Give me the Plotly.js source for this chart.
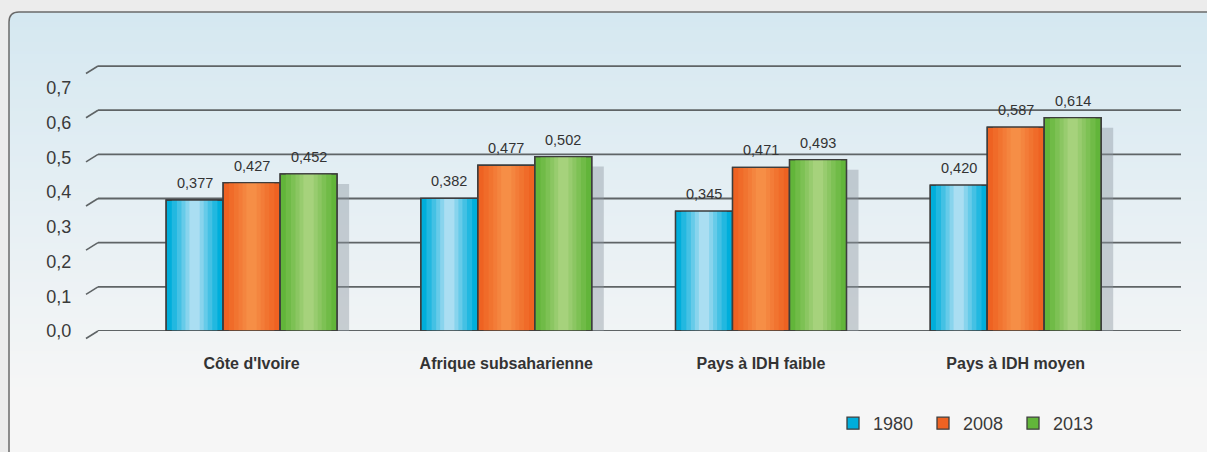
<!DOCTYPE html>
<html>
<head>
<meta charset="utf-8">
<script src="https://cdn.plot.ly/plotly-3.0.1.min.js"></script>
<style>html,body{margin:0;padding:0;background:#f6f6f6;overflow:hidden;}#chart{width:1207px;height:452px;}</style>
</head>
<body>
<div id="chart"></div>
<script>
// ---- data ----
const categories = ["Côte d'Ivoire", "Afrique subsaharienne", "Pays à IDH faible", "Pays à IDH moyen"];
const years = ["1980", "2008", "2013"];
const v1980 = [0.377, 0.382, 0.345, 0.420];
const v2008 = [0.427, 0.477, 0.471, 0.587];
const v2013 = [0.452, 0.502, 0.493, 0.614];
const yTickValues = [0, 0.1, 0.2, 0.3, 0.4, 0.5, 0.6, 0.7];
const yTickLabels = ["0,0", "0,1", "0,2", "0,3", "0,4", "0,5", "0,6", "0,7"];

// ---- geometry / style ----
const W = 1207, H = 452, ML = 98, MR = 26, MT = 60, MB = 121;
const PW = W - ML - MR, PH = H - MT - MB;
const Y_MAX = 0.78;
const X_RANGE = [-0.603, 3.649];
const unitPxY = PH / Y_MAX;
const unitPxX = PW / (X_RANGE[1] - X_RANGE[0]);
const px2x = p => (p - ML) / PW;
const px2y = p => (H - MB - p) / PH;
const FONT = "'Liberation Sans Narrow', 'Arial Narrow', 'Liberation Sans', Arial, sans-serif";

const series = [
  {name: years[0], vals: v1980, edge: [0, 174, 219], center: [170, 222, 242]},
  {name: years[1], vals: v2008, edge: [238, 98, 34], center: [246, 142, 70]},
  {name: years[2], vals: v2013, edge: [98, 181, 58], center: [166, 210, 124]}
];
const BAR_W = 0.2238;
const GROUP_START = -1.5 * BAR_W;
const lerp = (a, b, t) => a.map((v, i) => Math.round(v + (b[i] - v) * t));
const rgb = c => `rgb(${c[0]},${c[1]},${c[2]})`;

const traces = [];
// shadow behind each group
traces.push({
  type: 'bar', x: categories, y: v2013, base: -10 / unitPxY,
  offset: GROUP_START + 2 * BAR_W + 12 / unitPxX, width: BAR_W,
  marker: {color: 'rgba(140,150,160,0.42)', line: {width: 0}},
  showlegend: false, hoverinfo: 'skip'
});
const levels = [1, 0.8, 0.62, 0.46, 0.32, 0.18];
series.forEach((s, si) => {
  const off = GROUP_START + si * BAR_W;
  const oc = off + BAR_W / 2;
  levels.forEach((f, li) => {
    const col = lerp(s.edge, s.center, li / (levels.length - 1));
    traces.push({
      type: 'bar', x: categories, y: s.vals, name: s.name,
      offset: oc - f * BAR_W / 2, width: f * BAR_W,
      marker: {color: rgb(col), line: li === 0 ? {color: '#3d3d3d', width: 1.3} : {width: 0}},
      showlegend: li === 0, legendgroup: s.name, hoverinfo: li === 0 ? 'x+y+name' : 'skip'
    });
  });
  traces.push({
    type: 'bar', x: categories, y: s.vals, name: s.name,
    offset: off, width: BAR_W,
    marker: {color: 'rgba(0,0,0,0)', line: {color: '#3d3d3d', width: 1.3}},
    showlegend: false, legendgroup: s.name, hoverinfo: 'skip'
  });
});

// ---- shapes: background panel, gridlines, 3D diagonals ----
const shapes = [];
const topC = [213, 232, 241], botC = [246, 246, 246], outC = [236, 236, 236];
const PANEL_L = 9, PANEL_T = 12, R = 10;
shapes.push({type: 'rect', xref: 'paper', yref: 'paper', layer: 'below',
  x0: px2x(-5), x1: px2x(W + 5), y0: px2y(PANEL_T + R), y1: px2y(-5),
  fillcolor: rgb(outC), line: {width: 0}});
shapes.push({type: 'rect', xref: 'paper', yref: 'paper', layer: 'below',
  x0: px2x(-5), x1: px2x(PANEL_L), y0: px2y(H + 5), y1: px2y(PANEL_T),
  fillcolor: rgb(outC), line: {width: 0}});
for (let y = PANEL_T + R; y < H + 3; y += 3) {
  const t = Math.min(1, (y - PANEL_T) / 380);
  shapes.push({type: 'rect', xref: 'paper', yref: 'paper', layer: 'below',
    x0: px2x(PANEL_L), x1: px2x(W + 5), y0: px2y(y - 1), y1: px2y(y + 4),
    fillcolor: rgb(lerp(topC, botC, t)), line: {width: 0}});
}
{
  const x0 = px2x(PANEL_L), x1 = px2x(W + 5), xr = px2x(PANEL_L + R);
  const yb = px2y(PANEL_T + R), yt = px2y(PANEL_T);
  shapes.push({type: 'path', xref: 'paper', yref: 'paper', layer: 'below',
    path: `M ${x0},${yb} Q ${x0},${yt} ${xr},${yt} L ${x1},${yt} L ${x1},${yb} Z`,
    fillcolor: rgb(topC), line: {width: 0}});
  shapes.push({type: 'path', xref: 'paper', yref: 'paper', layer: 'below',
    path: `M ${x0},${px2y(H + 5)} L ${x0},${yb} Q ${x0},${yt} ${xr},${yt} L ${x1},${yt}`,
    line: {color: '#6a6a6a', width: 1.5}});
}
const GRID_STEP = 0.1271;
for (let k = 0; k <= 6; k++) {
  const g = k * GRID_STEP;
  const gp = (H - MB) - g * unitPxY;
  shapes.push({type: 'line', xref: 'paper', yref: 'y', layer: 'below',
    x0: 0, x1: 1, y0: g, y1: g, line: {color: '#5f6466', width: 1.8}});
  shapes.push({type: 'line', xref: 'paper', yref: 'paper', layer: 'below',
    x0: px2x(86), x1: px2x(98), y0: px2y(gp + 7.5), y1: px2y(gp), line: {color: '#5f6466', width: 1.6}});
}

// ---- value labels ----
const annotations = [];
series.forEach((s, si) => {
  const oc = GROUP_START + si * BAR_W + BAR_W / 2;
  s.vals.forEach((v, ci) => {
    annotations.push({x: ci + oc, y: v, xref: 'x', yref: 'y', yanchor: 'bottom', yshift: 7,
      text: v.toFixed(3).replace('.', ','), showarrow: false,
      font: {family: FONT, size: 14.5, color: '#333333'}});
  });
});

const layout = {
  width: W, height: H,
  margin: {l: ML, r: MR, t: MT, b: MB, pad: 0, autoexpand: false},
  paper_bgcolor: rgb(botC), plot_bgcolor: 'rgba(0,0,0,0)',
  barmode: 'overlay', separators: ', ',
  xaxis: {type: 'category', range: X_RANGE, showgrid: false, zeroline: false, showline: false,
    ticks: 'outside', ticklen: 18, tickcolor: 'rgba(0,0,0,0)', automargin: false,
    tickfont: {family: FONT, size: 16, color: '#333333', weight: 'bold'}, fixedrange: true},
  yaxis: {range: [0, Y_MAX], showgrid: false, zeroline: false, showline: false,
    tickvals: yTickValues, ticktext: yTickLabels, automargin: false,
    ticks: 'outside', ticklen: 22, tickcolor: 'rgba(0,0,0,0)',
    tickfont: {family: FONT, size: 18, color: '#3a3a3a'}, fixedrange: true},
  showlegend: true,
  legend: {orientation: 'h', xref: 'container', yref: 'container',
    x: 833 / W, y: 1 - 405 / H, xanchor: 'left', yanchor: 'top',
    font: {family: FONT, size: 18, color: '#3a3a3a'}, bgcolor: 'rgba(0,0,0,0)',
    entrywidth: 45, itemwidth: 30},
  shapes: shapes, annotations: annotations
};

Plotly.newPlot('chart', traces, layout, {displayModeBar: false, staticPlot: true});
</script>
</body>
</html>
